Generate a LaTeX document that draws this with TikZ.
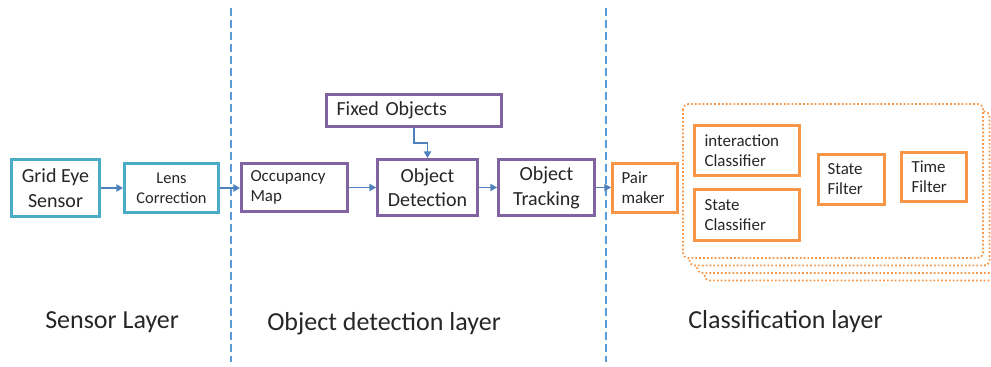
\documentclass[tikz,border=0pt]{standalone}
\usepackage{fontspec}
\setmainfont{Carlito}
\usetikzlibrary{arrows.meta}

\definecolor{sensorc}{HTML}{4BACC6}
\definecolor{detectc}{HTML}{8064A2}
\definecolor{classc}{HTML}{F79646}
\definecolor{flowc}{HTML}{4F81BD}
\definecolor{sepc}{HTML}{5B9BD5}
\definecolor{txtc}{HTML}{262626}

\tikzset{
  box/.style={draw, line width=2.2pt, fill=white, text=txtc, inner sep=0pt},
  size/.style 2 args={minimum width=0.75pt*#1, minimum height=0.75pt*#2},
  lbox/.style args={#1/#2/#3}{align=left, text width=0.75pt*(#1-2*#3),
     inner xsep=0.75pt*#3, minimum height=0.75pt*#2},
  sensorbox/.style={box, draw=sensorc},
  detectbox/.style={box, draw=detectc},
  classbox/.style={box, draw=classc},
  flow/.style={draw=flowc, line width=1pt,
     -{Triangle[width=5.5pt,length=5pt]}},
  separator/.style={draw=sepc, line width=0.8pt, dash pattern=on 6pt off 3pt},
  stack/.style={draw=classc, fill=white, line width=1.3pt,
     dash pattern=on 1.3pt off 1.6pt, rounded corners=4pt},
  layer/.style={text=txtc, anchor=base west, inner sep=0pt,
     font=\fontsize{19.5}{22}\selectfont},
  big/.style={font=\fontsize{15}{18.5}\selectfont},
  mid/.style={font=\fontsize{15}{18}\selectfont},
  small/.style={font=\fontsize{12.7}{15}\selectfont},
  lens/.style={font=\fontsize{12.3}{15}\selectfont},
}

\begin{document}
\begin{tikzpicture}[x=0.75pt, y=-0.75pt]
  \useasboundingbox (0,0) rectangle (991,367);
  \clip (0,0) rectangle (991,367);

  % layer separators
  \draw[separator] (231,8) -- (231,362);
  \draw[separator] (606,8) -- (606,362);

  % stacked classification stage (back to front)
  \draw[stack] (704.5,126.5) rectangle (1004.5,280.5);
  \draw[stack] (697,119) rectangle (997,273);
  \draw[stack] (689.5,111.5) rectangle (989.5,265.5);
  \draw[stack] (683,104) rectangle (983,258);

  % sensor layer
  \node[sensorbox, size={88}{57}, big, align=center] (grid) at (55.5,188)
    {Grid Eye\\Sensor};
  \node[sensorbox, size={94}{49}, lens, align=center] (lens) at (171.5,188)
    {Lens\\Correction};

  % object detection layer
  \node[detectbox, lbox={106/48/9}, small] (occ) at (294.5,187.5)
    {Occupancy\\Map};
  \node[detectbox, lbox={175/32/10}, mid] (fixed) at (414,110.5)
    {Fixed Objects};
  \node[detectbox, size={100}{56}, big, align=center] (det) at (427.5,187.5)
    {Object\\Detection};
  \node[detectbox, size={96}{56}, big, align=center] (trk) at (546.5,187.5)
    {Object\\Tracking};

  % classification layer
  \node[classbox, lbox={65/49/9}, small] (pair) at (645,188)
    {Pair\\maker};
  \node[classbox, lbox={105/50/10}, small] (inter) at (747,150.5)
    {interaction\\Classifier};
  \node[classbox, lbox={105/51/10}, small] (stcls) at (747,215)
    {State\\Classifier};
  \node[classbox, lbox={66/50/9}, small] (stf) at (851.5,179.5)
    {State\\Filter};
  \node[classbox, lbox={65/49/10}, small] (tf) at (934,177)
    {Time\\Filter};

  % data flow
  \draw[flow] (grid.east) -- (grid.east -| lens.west);
  \draw[flow] (lens.east) -- (lens.east -| occ.west);
  \draw[flow] (occ.east) -- (occ.east -| det.west);
  \draw[flow] (det.east) -- (det.east -| trk.west);
  \draw[flow] (trk.east) -- (trk.east -| pair.west);
  \draw[flow] (fixed.south) -- ++(0,15) -| (det.north);

  % layer captions
  \node[layer] (lsensor) at (45,328) {Sensor Layer};
  \node[layer] (ldetect) at (267,330) {Object detection layer};
  \node[layer] (lclass) at (688,328) {Classification layer};
\end{tikzpicture}
\end{document}
